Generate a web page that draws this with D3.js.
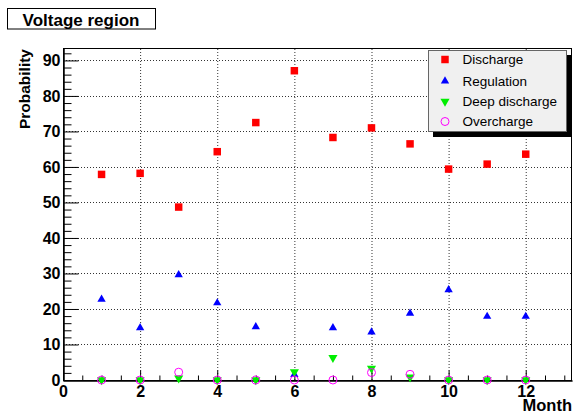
<!DOCTYPE html>
<html>
<head>
<meta charset="utf-8">
<script src="https://cdn.jsdelivr.net/npm/d3@7"></script>
<style>
  html, body { margin: 0; padding: 0; background: #fff; }
  svg { display: block; font-family: "Liberation Sans", Arial, Helvetica, sans-serif; }
</style>
</head>
<body>
<svg id="chart" width="574" height="414"></svg>
<script>
// ---- data ----
const months = [1, 2, 3, 4, 5, 6, 7, 8, 9, 10, 11, 12];
const discharge = [57.9, 58.2, 48.7, 64.3, 72.5, 87.1, 68.3, 71.0, 66.5, 59.4, 60.8, 63.6];
const regulation = [22.7, 14.7, 29.6, 21.7, 15.0, 1.5, 14.7, 13.5, 18.8, 25.4, 17.9, 17.9];
const deepDischarge = [0, 0, 0.5, 0, 0, 2.3, 6.3, 3.3, 0.8, 0, 0, 0];
const overcharge = [0, 0, 2.2, 0, 0, 0, 0, 2.1, 1.6, 0, 0, 0];
const xTicks = [0, 2, 4, 6, 8, 10, 12];
const yTicks = [0, 10, 20, 30, 40, 50, 60, 70, 80, 90];
const seriesNames = ["Discharge", "Regulation", "Deep discharge", "Overcharge"];
const titleText = "Voltage region";
const xTitle = "Month";
const yTitle = "Probability";

// ---- layout ----
const L = 63, R = 572, T = 48, B = 380;
const svg = d3.select("#chart");
const x = d3.scaleLinear().domain([0, 13.2]).range([L, R]);
const y = d3.scaleLinear().domain([0, 93.5]).range([B, T]);

const xMinor = d3.range(0, 13.2, 0.5).filter(v => v % 2 !== 0);
const yMinor = d3.range(0, 93.5, 2).filter(v => v % 10 !== 0);

// grid
const grid = svg.append("g");
grid.selectAll("line.gx").data(xTicks.filter(v => v > 0)).join("line")
  .attr("x1", d => x(d) + 0.5).attr("x2", d => x(d) + 0.5)
  .attr("y1", B).attr("y2", T)
  .attr("stroke", "#333").attr("stroke-dasharray", "1,2");
grid.selectAll("line.gy").data(yTicks.filter(v => v > 0)).join("line")
  .attr("y1", d => Math.round(y(d)) + 0.5).attr("y2", d => Math.round(y(d)) + 0.5)
  .attr("x1", L).attr("x2", R)
  .attr("stroke", "#333").attr("stroke-dasharray", "1,2");

// frame
svg.append("rect").attr("x", L + 0.5).attr("y", T + 0.5)
  .attr("width", R - L - 1).attr("height", B - T)
  .attr("fill", "none").attr("stroke", "#000");

// axes
const xAxis = svg.append("g").attr("transform", `translate(0,${B + 0.5})`)
  .call(d3.axisBottom(x).tickValues(xTicks).tickSize(-10).tickSizeOuter(0).tickPadding(5).tickFormat(d3.format("d")));
const xAxisMinor = svg.append("g").attr("transform", `translate(0,${B + 0.5})`)
  .call(d3.axisBottom(x).tickValues(xMinor).tickSize(-5).tickSizeOuter(0).tickFormat(""));
const yAxis = svg.append("g").attr("transform", `translate(${L + 0.5},0)`)
  .call(d3.axisLeft(y).tickValues(yTicks).tickSize(-15).tickSizeOuter(0).tickPadding(3).tickFormat(d3.format("d")));
const yAxisMinor = svg.append("g").attr("transform", `translate(${L + 0.5},0)`)
  .call(d3.axisLeft(y).tickValues(yMinor).tickSize(-8).tickSizeOuter(0).tickFormat(""));
[xAxis, xAxisMinor, yAxis, yAxisMinor].forEach(g => {
  g.select(".domain").attr("stroke", "#000");
  g.selectAll(".tick line").attr("stroke", "#000");
  g.selectAll("text").attr("font-family", "'Liberation Sans', Arial, sans-serif")
    .attr("font-weight", "bold").attr("font-size", 16).attr("fill", "#000");
});

// axis titles
svg.append("text").attr("x", R).attr("y", 411).attr("text-anchor", "end")
  .attr("font-weight", "bold").attr("font-size", 16.5).text(xTitle);
svg.append("text").attr("transform", `translate(30,49) rotate(-90)`).attr("text-anchor", "end")
  .attr("font-weight", "bold").attr("font-size", 15.5).text(yTitle);

// markers
const sq = d3.symbol().type(d3.symbolSquare).size(56);
const up = d3.symbol().type(d3.symbolTriangle).size(30);
const down = d3.symbol().type(d3.symbolTriangle).size(36);

svg.append("g").selectAll("path").data(months).join("path")
  .attr("d", sq).attr("transform", (d, i) => `translate(${x(d)},${y(discharge[i])})`)
  .attr("fill", "#ff0000");
svg.append("g").selectAll("path").data(months).join("path")
  .attr("d", up).attr("transform", (d, i) => `translate(${x(d)},${y(regulation[i])})`)
  .attr("fill", "#0000ff");
svg.append("g").selectAll("path").data(months).join("path")
  .attr("d", down).attr("transform", (d, i) => `translate(${x(d)},${y(deepDischarge[i])}) rotate(180)`)
  .attr("fill", "#00ee00");
svg.append("g").selectAll("circle").data(months).join("circle")
  .attr("cx", d => x(d)).attr("cy", (d, i) => y(overcharge[i])).attr("r", 4)
  .attr("fill", "none").attr("stroke", "#ff00ff").attr("stroke-width", 1);

// legend
const lg = svg.append("g");
lg.append("rect").attr("x", 433).attr("y", 55).attr("width", 139).attr("height", 82).attr("fill", "#000");
lg.append("rect").attr("x", 428.5).attr("y", 50.5).attr("width", 138).attr("height", 81)
  .attr("fill", "#f0f0f0").attr("stroke", "#666");
const rowsY = [59.5, 81, 101.5, 121.5];
const legendMarkers = [
  g => g.append("path").attr("d", sq).attr("fill", "#ff0000"),
  g => g.append("path").attr("d", up).attr("fill", "#0000ff"),
  g => g.append("path").attr("d", down).attr("transform", "rotate(180)").attr("fill", "#00ee00"),
  g => g.append("circle").attr("r", 4).attr("fill", "none").attr("stroke", "#ff00ff")
];
seriesNames.forEach((name, i) => {
  const g = lg.append("g").attr("transform", `translate(445,${rowsY[i]})`);
  legendMarkers[i](g);
  lg.append("text").attr("x", 462.5).attr("y", rowsY[i]).attr("dy", "0.36em")
    .attr("font-size", 13.5).attr("fill", "#000").text(name);
});

// title box
svg.append("rect").attr("x", 7.5).attr("y", 8.5).attr("width", 148).attr("height", 20.5)
  .attr("fill", "#fff").attr("stroke", "#000");
svg.append("text").attr("x", 81).attr("y", 25.5).attr("text-anchor", "middle")
  .attr("font-weight", "bold").attr("font-size", 17).text(titleText);
</script>
</body>
</html>
